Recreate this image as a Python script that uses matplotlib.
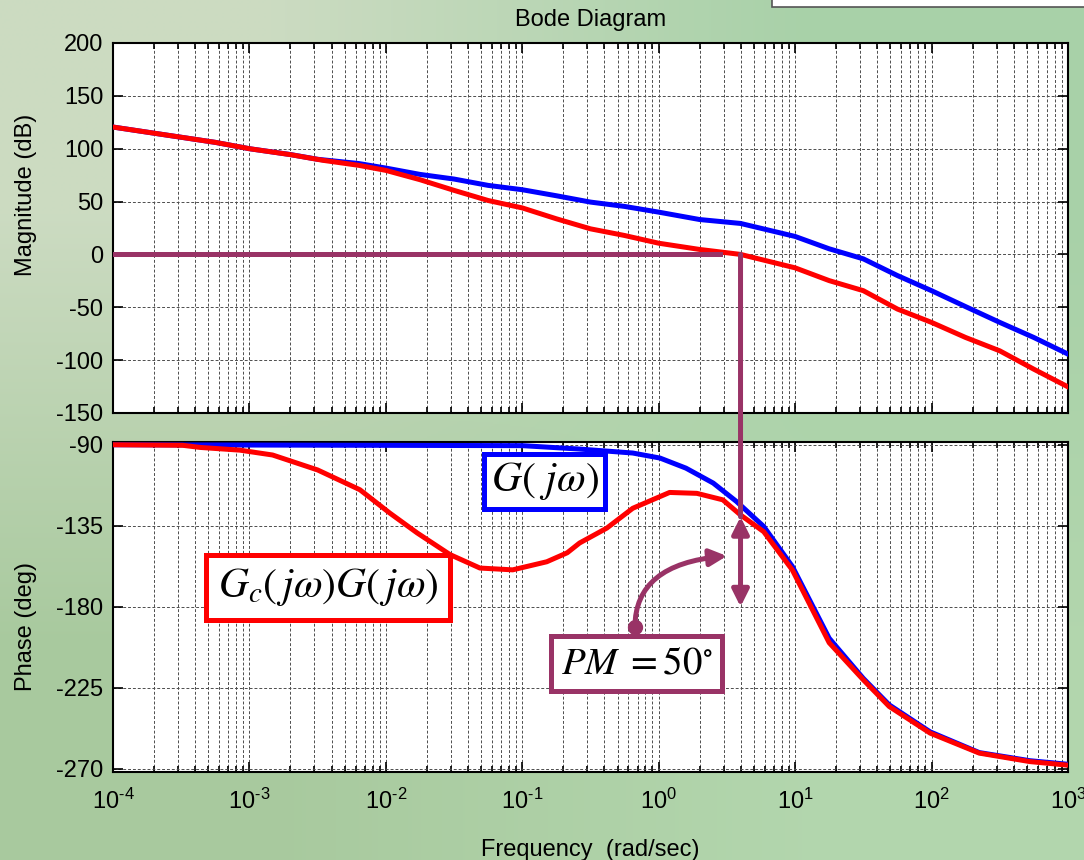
import numpy as np
import matplotlib
matplotlib.use("Agg")
import matplotlib.pyplot as plt
from matplotlib.patches import ConnectionPatch, Rectangle
from matplotlib.ticker import FixedLocator, FuncFormatter, LogLocator, NullFormatter

plt.rcParams["font.family"] = ["Liberation Sans", "DejaVu Sans"]
plt.rcParams["mathtext.fontset"] = "stix"
plt.rcParams["axes.unicode_minus"] = False

# log10(frequency) sample points and readings, uncompensated plant G(jw)
g_mag_logw = [-4, -3.25, -3, -2.7, -2.5, -2.2, -2, -1.75, -1.5, -1.25, -1, -0.75,
              -0.5, -0.25, 0, 0.3, 0.6, 1.0, 1.25, 1.5, 1.75, 2.0, 2.25, 2.5, 2.75, 3.0]
g_mag_db = [120.5, 106, 100, 94.5, 90, 86, 81.7, 75.7, 71.3, 65.3, 61.2, 55.5,
            49.5, 45.4, 40, 33, 29.3, 17, 5.3, -4.2, -20, -34.3, -49.4, -64.3, -78.6, -94.3]

# compensated loop Gc(jw)G(jw)
gcg_mag_logw = [-4, -3.25, -3, -2.7, -2.46, -2.2, -2, -1.75, -1.5, -1.25, -1, -0.75,
                -0.5, -0.25, 0, 0.3, 0.6, 1.0, 1.25, 1.5, 1.75, 2.0, 2.25, 2.5, 2.75, 3.0]
gcg_mag_db = [120.5, 106, 100, 94.4, 89, 84.3, 79.5, 70.7, 60.6, 51, 44, 33.7,
              24.2, 17.9, 10.6, 4.7, 0, -12.7, -24.8, -34.3, -51.7, -64.3, -78.6, -91.2, -108.6, -125.3]

g_ph_logw = [-4, -1, -0.58, -0.19, 0.01, 0.2, 0.4, 0.57, 0.77, 0.98, 1.25, 1.5,
             1.69, 1.99, 2.35, 2.72, 3.0]
g_ph_deg = [-90, -90.5, -92.4, -94.6, -97.4, -103, -111.3, -121.5, -135.4, -157.6, -197.5, -219.8,
            -234.5, -249.5, -261, -265.5, -267.5]

gcg_ph_logw = [-4, -3.49, -3.36, -3.07, -2.83, -2.5, -2.19, -1.97, -1.77, -1.53, -1.31, -1.07,
               -0.82, -0.67, -0.58, -0.38, -0.19, 0.08, 0.28, 0.47, 0.6, 0.77, 0.98, 1.25,
               1.5, 1.69, 1.99, 2.35, 2.72, 3.0]
gcg_ph_deg = [-90, -90.3, -91.5, -93, -95.7, -104, -115, -128, -139, -151, -158.5, -159.5,
              -155, -150, -144.6, -136.3, -125.3, -116.5, -117, -120.6, -129, -138.3, -159.6, -200,
              -220.6, -235.4, -250.2, -261.3, -266, -268]

mag_ticks = [200, 150, 100, 50, 0, -50, -100, -150]
phase_ticks = [-90, -135, -180, -225, -270]

crossover_logw = 0.6      # gain crossover of the compensated loop
phase_at_wc = -130
pm_deg = 50

purple = "#993366"


def decade_label(v, pos):
    e = int(round(np.log10(v)))
    if e < 0:
        return r"$\mathregular{10^{\text{-}%d}}$" % -e
    return r"$\mathregular{10^{%d}}$" % e


fig = plt.figure(figsize=(10.84, 8.6), dpi=100)

# slide background: soft green blend
bg = fig.add_axes([0, 0, 1, 1], zorder=-10)
corners = np.array([[[0.80, 0.86, 0.76], [0.66, 0.82, 0.66]],
                    [[0.66, 0.79, 0.62], [0.70, 0.84, 0.68]]])
bg.imshow(corners, extent=[0, 1, 0, 1], interpolation="bilinear", aspect="auto")
bg.set_axis_off()
fig.patches.append(Rectangle((772 / 1084, 1 - 7 / 860), 1.0, 0.02, transform=fig.transFigure,
                             facecolor="white", edgecolor="#555555", lw=1.2))

ax1 = fig.add_axes([0.1042, 0.5198, 0.881, 0.4302])
ax2 = fig.add_axes([0.1042, 0.1023, 0.881, 0.3837])

for ax in (ax1, ax2):
    ax.set_facecolor("white")
    ax.set_xscale("log")
    ax.set_xlim(1e-4, 1e3)
    ax.xaxis.set_major_locator(LogLocator(base=10, numticks=20))
    ax.xaxis.set_minor_locator(LogLocator(base=10, subs=np.arange(2, 10), numticks=20))
    ax.xaxis.set_minor_formatter(NullFormatter())
    ax.grid(True, which="major", axis="both", color="0.3", lw=0.7, ls=(0, (3, 2)))
    ax.grid(True, which="minor", axis="x", color="0.3", lw=0.7, ls=(0, (3, 2)))
    ax.tick_params(which="both", direction="in", top=True, right=True, labelsize=17,
                   width=1.2, pad=7)
    ax.tick_params(which="major", length=7)
    ax.tick_params(which="minor", length=4)
    for sp in ax.spines.values():
        sp.set_linewidth(1.5)

ax1.set_ylim(-150, 200)
ax1.yaxis.set_major_locator(FixedLocator(mag_ticks))
ax1.xaxis.set_major_formatter(NullFormatter())
ax2.set_ylim(-271.8, -88.5)
ax2.yaxis.set_major_locator(FixedLocator(phase_ticks))
ax2.xaxis.set_major_formatter(FuncFormatter(decade_label))
ax2.tick_params(axis="x", pad=12)

ax1.plot(10.0 ** np.array(g_mag_logw), g_mag_db, color="#0000ff", lw=3.6, zorder=3)
ax1.plot(10.0 ** np.array(gcg_mag_logw), gcg_mag_db, color="#ff0000", lw=3.6, zorder=4)
ax2.plot(10.0 ** np.array(g_ph_logw), g_ph_deg, color="#0000ff", lw=3.6, zorder=3)
ax2.plot(10.0 ** np.array(gcg_ph_logw), gcg_ph_deg, color="#ff0000", lw=3.6, zorder=4)

ax1.set_title("Bode Diagram", fontsize=17, pad=12)
ax1.set_ylabel("Magnitude (dB)", fontsize=17)
ax2.set_ylabel("Phase (deg)", fontsize=17)
ax2.set_xlabel("Frequency  (rad/sec)", fontsize=17, labelpad=18)
ax1.yaxis.set_label_coords(-0.08, 0.59)
ax2.yaxis.set_label_coords(-0.08, 0.44)

# 0 dB line and drop to the phase curve at crossover
wc = 10 ** crossover_logw
ax1.plot([1e-4, 10 ** 0.45], [0, 0], color=purple, lw=3.6, zorder=5)
con = ConnectionPatch(xyA=(wc, 0), coordsA=ax1.transData, xyB=(wc, phase_at_wc),
                      coordsB=ax2.transData, color=purple, lw=3.6, zorder=6)
fig.add_artist(con)
ax2.annotate("", xy=(wc, phase_at_wc), xytext=(wc, phase_at_wc - pm_deg),
             arrowprops=dict(arrowstyle="<|-|>,head_length=0.5,head_width=0.25",
                             color=purple, lw=3.6, mutation_scale=20, shrinkA=0, shrinkB=0),
             zorder=6)

# curved pointer from the PM label
ax2.annotate("", xy=(10 ** 0.5, -151.8), xytext=(10 ** -0.174, -191.3),
             arrowprops=dict(arrowstyle="-|>,head_length=0.5,head_width=0.25",
                             connectionstyle="angle3,angleA=90,angleB=5",
                             color=purple, lw=3.6, mutation_scale=20, shrinkA=0, shrinkB=0),
             zorder=6)
ax2.plot([10 ** -0.174], [-191.3], "o", color=purple, ms=10, zorder=7)

ax2.text(10 ** -0.837, -110.4, r"$G(\ j\omega)$", fontsize=30, ha="center", va="center",
         zorder=8, bbox=dict(boxstyle="square,pad=0.15", fc="white", ec="#0000ff", lw=3.6))
ax2.text(10 ** -2.424, -169.3, r"$G_c(\,j\omega)G(\,j\omega)$", fontsize=30, ha="center",
         va="center", zorder=8,
         bbox=dict(boxstyle="square,pad=0.27", fc="white", ec="#ff0000", lw=3.6))
ax2.text(10 ** -0.163, -211.6, r"$PM\;=50^{\circ}$", fontsize=28, ha="center", va="center",
         zorder=8, bbox=dict(boxstyle="square,pad=0.25", fc="white", ec=purple, lw=3.6))

fig.savefig("out.png", dpi=100)
